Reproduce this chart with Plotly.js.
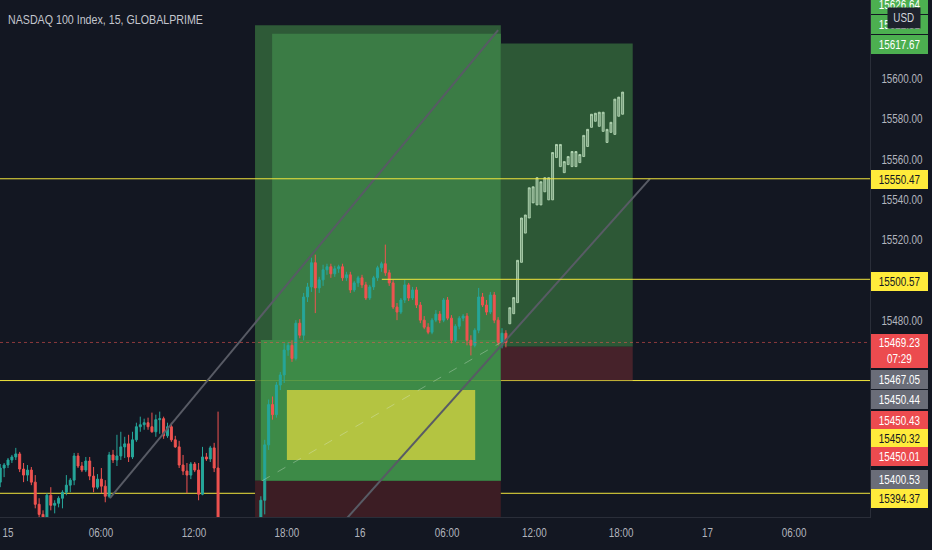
<!DOCTYPE html>
<html><head><meta charset="utf-8">
<script src="https://cdn.plot.ly/plotly-3.0.1.min.js"></script>
<style>html,body{margin:0;padding:0;background:#131722;}#chart{width:932px;height:550px;}</style>
</head><body><div id="chart"></div>
<script>
const FONT = "'Liberation Sans',Arial,sans-serif";
const TEXT_CONDENSE = 0.82;

// ---- real 15-min bars (bar slot index, OHLC) ----
const barIndex = [-2,-1,0,1,2,3,4,5,6,7,8,9,10,11,12,13,14,15,16,17,18,19,20,21,22,23,24,25,26,27,28,29,30,31,32,33,34,35,36,37,38,39,40,41,42,43,44,45,46,47,48,49,50,51,52,53,54,
65,66,67,68,69,70,71,72,73,74,75,76,77,78,79,80,81,82,83,84,85,86,87,88,89,90,91,92,93,94,95,96,97,98,99,100,101,102,103,104,105,106,107,108,109,110,111,112,113,114,115,116,117,118,119,120,121,122,123,124,125,126,127,128];
const barOpen = [15399.9,15406.9,15408.4,15410.9,15412.4,15413.9,15406.4,15403.4,15405.9,15399.9,
15388.9,15383.9,15381.9,15393.4,15388.4,15389.4,15391.9,15394.9,15398.4,15400.9,
15412.9,15407.9,15405.9,15410.4,15402.9,15397.4,15401.4,15397.9,15392.9,15413.4,
15410.9,15412.9,15417.4,15418.9,15412.4,15420.9,15427.4,15428.4,15429.4,15427.4,
15424.9,15430.9,15431.4,15422.9,15427.4,15420.9,15417.4,15408.4,15405.4,15403.4,
15408.9,15405.9,15393.9,15412.4,15411.4,15416.9,15406.9,
15376.9,15390.9,15418.4,15438.4,15433.4,15448.1,15453.1,15465.5,15467.8,15461.3,
15478.8,15472.8,15491.8,15496.8,15508.8,15496.3,15500.3,15505.3,15506.8,15503.3,
15505.8,15506.8,15501.3,15502.8,15495.3,15498.8,15501.3,15497.8,15491.3,15496.8,
15501.3,15506.3,15508.3,15503.8,15498.8,15486.8,15484.3,15490.3,15497.8,15491.3,
15495.3,15487.8,15480.3,15476.8,15474.3,15480.3,15483.3,15480.3,15490.3,15481.3,
15470.3,15477.3,15481.3,15482.3,15470.3,15467.8,15475.3,15491.8,15487.8,15484.3,
15492.8,15480.3,15469.3,15473.8];
const barHigh = [15408.9,15409.4,15411.9,15413.4,15416.9,15414.9,15409.4,15408.4,15407.4,15403.4,
15391.9,15385.9,15394.4,15397.4,15390.9,15392.9,15395.9,15403.4,15401.9,15414.4,
15414.4,15409.9,15412.4,15412.4,15407.4,15403.9,15406.9,15400.9,15414.9,15415.9,
15423.4,15424.9,15422.4,15423.4,15424.9,15429.4,15432.4,15431.4,15431.9,15434.4,
15433.4,15434.9,15432.4,15429.4,15429.4,15422.9,15420.4,15413.4,15409.4,15409.9,
15409.9,15409.4,15417.4,15414.4,15417.9,15419.4,15434.9,
15392.9,15420.9,15440.9,15442.4,15449.6,15454.6,15468.8,15469.3,15470.3,15480.3,
15480.8,15493.8,15498.8,15511.3,15512.8,15501.8,15507.8,15508.3,15508.3,15507.3,
15507.8,15508.3,15504.3,15504.3,15499.8,15502.3,15502.8,15499.3,15497.8,15502.3,
15507.3,15509.3,15517.8,15505.3,15500.3,15488.8,15491.3,15500.3,15498.8,15496.8,
15496.8,15489.3,15482.3,15478.8,15481.3,15485.3,15484.8,15491.3,15491.8,15482.8,
15478.3,15482.3,15483.3,15483.8,15472.8,15476.3,15496.3,15493.8,15490.3,15494.3,
15494.3,15481.8,15476.3,15475.3];
const barLow = [15397.4,15402.4,15406.9,15409.4,15410.9,15404.9,15399.9,15400.4,15398.4,15386.9,
15382.4,15379.9,15379.9,15385.9,15384.4,15387.4,15386.9,15393.4,15394.9,15398.4,
15406.9,15404.9,15404.9,15400.9,15394.9,15396.4,15394.4,15389.9,15391.9,15409.4,
15407.9,15410.9,15411.9,15409.9,15411.4,15419.9,15424.9,15425.9,15425.9,15424.4,
15422.4,15423.9,15421.4,15421.9,15419.9,15416.9,15406.9,15403.4,15394.4,15401.4,
15404.9,15390.9,15393.4,15410.4,15409.9,15404.9,15375.9,
15374.9,15383.9,15415.9,15430.9,15431.9,15445.6,15449.1,15462.6,15459.6,15460.3,
15471.3,15470.3,15489.3,15494.3,15483.8,15493.8,15497.3,15502.8,15501.3,15501.8,
15503.8,15499.8,15499.8,15493.8,15494.3,15496.8,15496.3,15490.3,15490.3,15495.3,
15499.8,15504.3,15502.3,15497.3,15485.8,15480.3,15483.3,15488.8,15489.8,15490.3,
15486.3,15478.8,15475.8,15473.3,15473.3,15479.3,15478.8,15479.3,15480.3,15468.8,
15469.3,15475.8,15479.8,15467.8,15462.8,15466.8,15473.8,15486.8,15482.8,15483.3,
15478.8,15467.8,15466.3,15466.8];
const barClose = [15406.9,15408.4,15410.9,15412.4,15413.9,15406.4,15403.4,15405.9,15399.9,15388.9,
15383.9,15381.9,15393.4,15388.4,15389.4,15391.9,15394.9,15398.4,15400.9,15412.9,
15407.9,15405.9,15410.4,15402.9,15397.4,15401.4,15397.9,15392.9,15413.4,15410.9,
15412.9,15417.4,15418.9,15412.4,15420.9,15427.4,15428.4,15429.4,15427.4,15424.9,
15430.9,15431.4,15422.9,15427.4,15420.9,15417.4,15408.4,15405.4,15403.4,15408.9,
15405.9,15393.9,15412.4,15411.4,15416.9,15406.9,15378.4,
15390.9,15418.4,15438.4,15433.4,15448.1,15453.1,15465.5,15467.8,15461.3,15478.8,
15472.8,15491.8,15496.8,15508.8,15496.3,15500.3,15505.3,15506.8,15503.3,15505.8,
15506.8,15501.3,15502.8,15495.3,15498.8,15501.3,15497.8,15491.3,15496.8,15501.3,
15506.3,15508.3,15503.8,15498.8,15486.8,15484.3,15490.3,15497.8,15491.3,15495.3,
15487.8,15480.3,15476.8,15474.3,15480.3,15483.3,15480.3,15490.3,15481.3,15470.3,
15477.3,15481.3,15482.3,15470.3,15467.8,15475.3,15491.8,15487.8,15484.3,15492.8,
15480.3,15469.3,15473.8,15469.23];

// ---- projected "bars pattern" (pale bars) ----
const ghostIndex = [129,130,131,132,133,134,135,136,137,138,139,140,141,142,143,144,145,146,147,148,149,150,151,152,153,154,155,156,157,158];
const ghostLow  = [15478.5,15483.5,15489,15509,15523.5,15531,15538.5,15537.5,15537.5,15544,15540,15540,15561,15556.5,15553.5,15557.5,15556.5,15556.5,15558.5,15561.5,15566.5,15576,15579,15576.5,15574,15568.5,15573.5,15572.5,15581.5,15582.5];
const ghostHigh = [15486.5,15491.5,15510,15531,15532.5,15546,15546.5,15551,15549,15551,15551,15563.5,15567.5,15567.5,15559,15561.5,15564,15564,15562.5,15572,15575,15582.5,15583,15583.5,15583.5,15575,15578.5,15590,15591,15593.5];

// ---- axes ----
const timeTickAt   = [0,23.9,47.8,71.7,90.5,112.9,135.3,157.6,179.8,202.1];
const timeTickText = ['15','06:00','12:00','18:00','16','06:00','12:00','18:00','17','06:00'];
const priceTicks = [15480,15520,15540,15560,15580,15600];
const xRange = [-2.06, 221.6];
const yRange = [15382.6, 15639.2];

// ---- drawing tools (bar slots / prices) ----
const horizLevels = [15550.47, 15500.57, 15450.32, 15394.37];
const level15500Start = 96.1;
const lastPrice = 15469.23;
const toolA = {start:63.5, end:126.7, target:15626.64, entry:15400.53, stop:15360};
const toolB = {start:67.9, end:126.7, target:15622.51, entry:15470.5};
const toolBandStart = 65.0;
const toolC = {start:126.7, end:160.6, target:15617.67, entry:15467.05, stop:15450.43};
const zoneRect = {start:71.7, end:120.1, top:15445.6, bottom:15410.9};
const trendA = {x:[26.2,126.0], y:[15392.0,15624.3]};
const trendB = {x:[85.0,165.0], y:[15377.4,15550.4]};
const entryPath = {x:[65.3,126.7], y:[15400.53,15469.23]};

// ---- price-scale labels ----
const labelText = ['15626.64','15622.51','15617.67','15550.47','15500.57','15469.23<br>07:29','15467.05','15450.44','15450.43','15450.32','15450.01','15400.53','15394.37'];
const labelKind = ['target','target','target','line','line','price','entry','entry','stop','line','stop','entry','line'];
const labelAt   = [15637.0,15626.8,15616.9,15549.9,15499.5,15465.0,15450.8,15440.7,15430.5,15421.8,15412.6,15401.0,15391.6];

const kindStyle = {
  target:{bg:'#4caf50', fg:'#ffffff'},
  line:{bg:'#ffeb3b', fg:'#131722'},
  price:{bg:'#ec4b4f', fg:'#ffffff'},
  entry:{bg:'#6a6d78', fg:'#ffffff'},
  stop:{bg:'#ec4b4f', fg:'#ffffff'}
};

const traces = [
  {type:'candlestick', x:barIndex, open:barOpen, high:barHigh, low:barLow, close:barClose,
   increasing:{line:{color:'#26a69a', width:1}, fillcolor:'#26a69a'},
   decreasing:{line:{color:'#ef5350', width:1}, fillcolor:'#ef5350'},
   whiskerwidth:0, hoverinfo:'skip', showlegend:false},
  {type:'candlestick', x:ghostIndex, open:ghostLow, high:ghostHigh, low:ghostLow, close:ghostHigh,
   increasing:{line:{color:'rgba(185,218,185,0.85)', width:1}, fillcolor:'rgba(185,218,185,0.5)'},
   decreasing:{line:{color:'rgba(185,218,185,0.85)', width:1}, fillcolor:'rgba(185,218,185,0.5)'},
   whiskerwidth:0, hoverinfo:'skip', showlegend:false}
];

const YELLOW = '#f2e53d';
function rect(x0,x1,y0,y1,color,layer){return {type:'rect',xref:'x',yref:'y',x0:x0,x1:x1,y0:y0,y1:y1,fillcolor:color,line:{width:0},layer:layer};}
function seg(x0,x1,y0,y1,color,w,dash,layer){return {type:'line',xref:'x',yref:'y',x0:x0,x1:x1,y0:y0,y1:y1,line:{color:color,width:w,dash:dash||'solid'},layer:layer};}
function hline(y,color,w,dash,layer){return {type:'line',xref:'paper',yref:'y',x0:0,x1:1,y0:y,y1:y,line:{color:color,width:w,dash:dash||'solid'},layer:layer};}

const shapes = [
  hline(horizLevels[2], YELLOW, 1, 'solid', 'below'),
  rect(toolA.start, toolA.end, toolA.entry, toolA.target, '#2e5a37', 'below'),
  rect(toolA.start, toolA.end, toolA.stop, toolA.entry, '#3c1d24', 'below'),
  rect(toolB.start, toolB.end, toolB.entry, toolB.target, '#3b7c45', 'below'),
  rect(toolBandStart, toolA.end, toolA.entry, toolB.entry, '#3d8a47', 'below'),
  rect(zoneRect.start, zoneRect.end, zoneRect.bottom, zoneRect.top, '#b4c441', 'below'),
  rect(toolC.start, toolC.end, toolC.entry, toolC.target, '#2d5836', 'below'),
  rect(toolC.start, toolC.end, toolC.stop, toolC.entry, '#46222a', 'below'),
  hline(horizLevels[3], YELLOW, 1, 'solid', 'below'),
  seg(toolA.start, toolA.end, horizLevels[2], horizLevels[2], 'rgba(242,229,61,0.18)', 1, 'solid', 'below'),
  seg(trendA.x[0], trendA.x[1], trendA.y[0], trendA.y[1], 'rgb(88,91,101)', 2, 'solid', 'above'),
  seg(trendB.x[0], trendB.x[1], trendB.y[0], trendB.y[1], 'rgb(88,91,101)', 2, 'solid', 'above'),
  seg(entryPath.x[0], entryPath.x[1], entryPath.y[0], entryPath.y[1], 'rgba(220,235,220,0.35)', 1, 'dash', 'above'),
  hline(horizLevels[0], YELLOW, 1, 'solid', 'above'),
  seg(level15500Start, xRange[1]+5, horizLevels[1], horizLevels[1], YELLOW, 1, 'solid', 'above'),
  hline(lastPrice, 'rgba(239,83,80,0.55)', 1, 'dot', 'above')
];

const annotations = [];
annotations.push({xref:'paper', yref:'paper', x:0, y:1, xshift:6, yshift:-19, xanchor:'left', yanchor:'middle', align:'left',
  text:'NASDAQ 100 Index, 15, GLOBALPRIME', showarrow:false, font:{family:FONT, size:13, color:'#c3c6ce'}});
for (let k=0;k<labelText.length;k++){
  const st = kindStyle[labelKind[k]];
  const two = labelText[k].indexOf('<br>')>=0;
  annotations.push({xref:'paper', yref:'y', x:1, y:labelAt[k], xanchor:'left', yanchor:'middle', xshift:1,
    text:labelText[k], showarrow:false, align:'center', valign:'middle',
    width:53, height: two?30:15, borderpad:2, borderwidth:0, bgcolor:st.bg,
    font:{family:FONT, size:12, color:st.fg}});
}
annotations.push({xref:'paper', yref:'y', x:1, y:15630.3, xanchor:'center', yanchor:'middle', xshift:34,
  text:'USD', showarrow:false, bgcolor:'#1e222d', borderpad:3, font:{family:FONT, size:12, color:'#d1d4dc'}});

const layout = {
  width:932, height:550,
  margin:{l:0, r:62, t:0, b:33, pad:0},
  paper_bgcolor:'#131722', plot_bgcolor:'#131722',
  showlegend:false,
  boxgap:0.28,
  xaxis:{range:xRange, tickmode:'array', tickvals:timeTickAt, ticktext:timeTickText,
    showgrid:false, zeroline:false, showline:true, linecolor:'#2a2e39', linewidth:1,
    ticks:'', ticklabelstandoff:5, tickfont:{family:FONT, size:12, color:'#b2b5be'},
    rangeslider:{visible:false}, fixedrange:true},
  yaxis:{range:yRange, side:'right', tickmode:'array', tickvals:priceTicks,
    ticktext:priceTicks.map(v=>v.toFixed(2)),
    showgrid:false, zeroline:false, showline:true, linecolor:'#2a2e39', linewidth:1,
    ticks:'', ticklabelstandoff:8, tickfont:{family:FONT, size:12, color:'#b2b5be'}, fixedrange:true},
  shapes:shapes,
  annotations:annotations
};

// TradingView's narrow UI lettering: compress glyphs horizontally (text stays real SVG text)
function condenseText(gd, factor){
  gd.querySelectorAll('svg text').forEach(function(t){
    const lines = t.querySelectorAll('tspan.line');
    const targets = lines.length ? Array.prototype.slice.call(lines) : [t];
    targets.forEach(function(el){
      const len = el.getComputedTextLength();
      if (len > 0){
        el.setAttribute('textLength', (len*factor).toFixed(2));
        el.setAttribute('lengthAdjust', 'spacingAndGlyphs');
      }
    });
  });
}

Plotly.newPlot('chart', traces, layout, {displayModeBar:false, staticPlot:true})
  .then(function(gd){ condenseText(gd, TEXT_CONDENSE); });
</script>
</body></html>
